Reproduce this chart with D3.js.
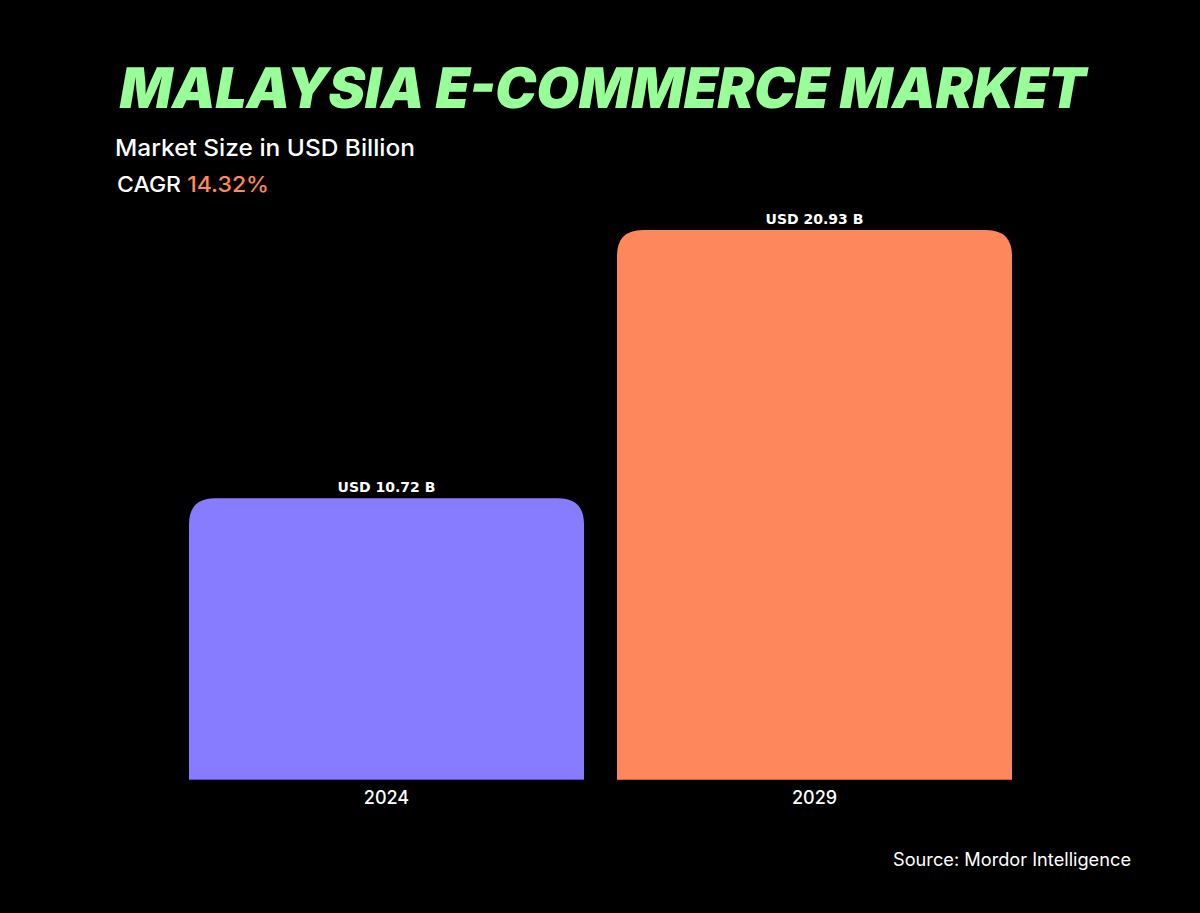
<!DOCTYPE html>
<html><head><meta charset="utf-8">
<script src="https://cdn.jsdelivr.net/npm/d3@7"></script>
<style>html,body{margin:0;padding:0;background:#000;}</style>
</head><body>
<svg id="chart" width="1200" height="913"></svg>
<script>
const categories = ["2024", "2029"];
const values = [10.72, 20.93];
const valueLabels = ["USD 10.72 B", "USD 20.93 B"];
const colors = ["#877CFF", "#FF875C"];
const edgeColors = ["#5a4fd0", "#c95f3a"];

const svg = d3.select("#chart");
svg.append("rect").attr("width", 1200).attr("height", 913).attr("fill", "#000");

const x = d3.scaleBand().domain(categories).range([189, 1012]).paddingInner(0.077).paddingOuter(0);
const y = d3.scaleLinear().domain([0, 20.93]).range([780, 230]);

// Title
svg.append("text").attr("x", 117).attr("y", 108)
  .attr("font-family", "Inter").attr("font-weight", 900).attr("font-size", 56)
  .attr("fill", "#98FF98").attr("textLength", 966).attr("lengthAdjust", "spacingAndGlyphs")
  .attr("transform", "translate(19,0) skewX(-10)")
  .text("MALAYSIA E-COMMERCE MARKET");

svg.append("text").attr("x", 115).attr("y", 156)
  .attr("font-family", "Inter").attr("font-weight", 500).attr("font-size", 23)
  .attr("fill", "#fff").attr("textLength", 300).attr("lengthAdjust", "spacingAndGlyphs")
  .text("Market Size in USD Billion");

const cagr = svg.append("text").attr("x", 117).attr("y", 192)
  .attr("font-family", "Inter").attr("font-weight", 500).attr("font-size", 22)
  .attr("fill", "#fff").attr("textLength", 152).attr("lengthAdjust", "spacingAndGlyphs");
cagr.append("tspan").text("CAGR ");
cagr.append("tspan").attr("fill", "#FF875C").text("14.32%");

// Bars with rounded top corners
const r = 26;
function barPath(x0, w, yTop, yBot) {
  return `M${x0},${yBot} L${x0},${yTop + r} Q${x0},${yTop} ${x0 + r},${yTop} L${x0 + w - r},${yTop} Q${x0 + w},${yTop} ${x0 + w},${yTop + r} L${x0 + w},${yBot} Z`;
}
const data = categories.map((c, i) => ({c, v: values[i], label: valueLabels[i], color: colors[i], edge: edgeColors[i]}));

svg.selectAll(".bar").data(data).enter().append("path")
  .attr("class", "bar")
  .attr("d", d => barPath(x(d.c), x.bandwidth(), y(d.v), y(0)))
  .attr("fill", d => d.color);

svg.selectAll(".edge").data(data).enter().append("rect")
  .attr("x", d => x(d.c)).attr("y", y(0) - 1).attr("width", x.bandwidth()).attr("height", 1)
  .attr("fill", d => d.edge);

svg.selectAll(".vlabel").data(data).enter().append("text")
  .attr("x", d => x(d.c) + x.bandwidth() / 2).attr("y", d => y(d.v) - 6)
  .attr("text-anchor", "middle").attr("font-family", "DejaVu Sans").attr("font-weight", "bold")
  .attr("font-size", 14).attr("fill", "#fff").text(d => d.label);

// x axis labels
const xAxis = d3.axisBottom(x).tickSize(0).tickPadding(11);
const gx = svg.append("g").attr("transform", `translate(0,${y(0)})`).call(xAxis);
gx.select(".domain").remove();
gx.selectAll("text").attr("font-family", "Inter").attr("font-weight", 500)
  .attr("font-size", 18).attr("fill", "#fff");

svg.append("text").attr("x", 1131).attr("y", 866).attr("text-anchor", "end")
  .attr("font-family", "Inter").attr("font-size", 18).attr("fill", "#fff")
  .attr("textLength", 238).attr("lengthAdjust", "spacingAndGlyphs")
  .text("Source: Mordor Intelligence");
</script>
</body></html>
